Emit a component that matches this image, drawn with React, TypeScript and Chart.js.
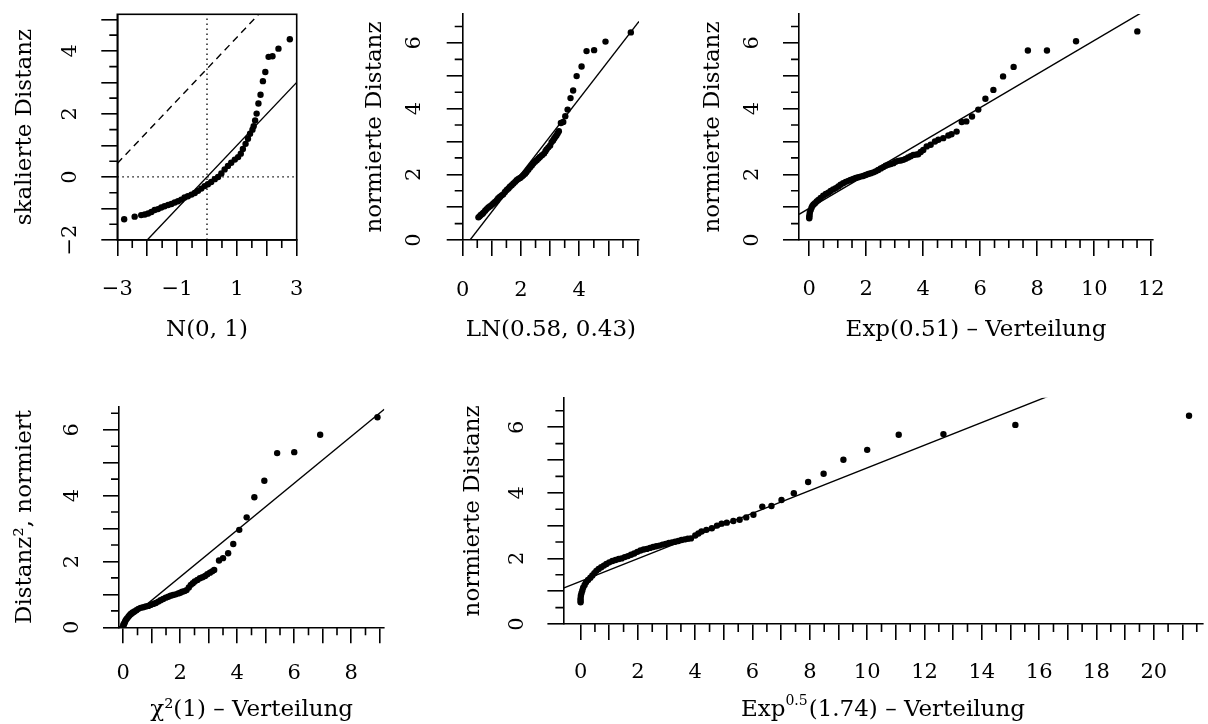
import React, { useEffect, useRef } from "react";
import { Chart, registerables } from "chart.js";

Chart.register(...registerables);

const SERIF = '"DejaVu Serif", "Liberation Serif", serif';
const PAGE_W = 1208;
const PAGE_H = 724;
const AXW = 1.6;
const LINEW = 1.4;
const MAJOR = 16;
const MINOR = 8;
const PR = 3.2;
const TICK_SIZE = 21;
const TITLE_SIZE = 23;

// ---------- Panel 1: N(0,1) ----------
const p1X = [-2.77, -2.42, -2.2, -2.08, -1.97, -1.86, -1.75, -1.64, -1.53, -1.42, -1.3, -1.19, -1.08, -0.97, -0.86, -0.75, -0.64, -0.52, -0.41, -0.3, -0.19, -0.08, 0.03, 0.14, 0.26, 0.37, 0.48, 0.59, 0.7, 0.81, 0.93, 1.04, 1.13, 1.2, 1.29, 1.37, 1.44, 1.52, 1.56, 1.61, 1.66, 1.72, 1.79, 1.87, 1.95, 2.06, 2.19, 2.39, 2.77];
const p1Y = [-1.34, -1.26, -1.21, -1.19, -1.16, -1.11, -1.05, -1.02, -0.97, -0.93, -0.89, -0.86, -0.81, -0.77, -0.72, -0.65, -0.61, -0.56, -0.51, -0.44, -0.37, -0.29, -0.23, -0.16, -0.07, 0.0, 0.11, 0.24, 0.35, 0.45, 0.55, 0.63, 0.74, 0.89, 1.05, 1.21, 1.37, 1.5, 1.61, 1.79, 2.01, 2.33, 2.61, 3.04, 3.33, 3.81, 3.83, 4.07, 4.37];
const p1Fit = { a: 0, b: 1 };
const p1Shift = { a: 3.43, b: 1 };
const p1RefX = 0;
const p1RefY = 0;
const p1XTicks = [-3, -2, -1, 0, 1, 2, 3];
const p1XMinor = [-2.5, -1.5, -0.5, 0.5, 1.5, 2.5];
const p1XLabels = [-3, -1, 1, 3];
const p1YTicks = [-2, -1, 0, 1, 2, 3, 4, 5];
const p1YMinor = [-1.5, -0.5, 0.5, 1.5, 2.5, 3.5, 4.5];
const p1YLabels = [-2, 0, 2, 4];

// ---------- Panel 2: LN(0.58, 0.43) ----------
const p2X = [0.54, 0.58, 0.62, 0.67, 0.71, 0.77, 0.82, 0.88, 0.94, 1.0, 1.05, 1.11, 1.17, 1.22, 1.28, 1.34, 1.39, 1.45, 1.51, 1.57, 1.62, 1.68, 1.74, 1.8, 1.85, 1.91, 1.97, 2.03, 2.08, 2.14, 2.19, 2.25, 2.31, 2.37, 2.42, 2.48, 2.54, 2.6, 2.65, 2.72, 2.79, 2.84, 2.88, 2.94, 3.0, 3.05, 3.1, 3.14, 3.18, 3.22, 3.26, 3.3, 3.37, 3.45, 3.52, 3.6, 3.7, 3.79, 3.91, 4.08, 4.25, 4.51, 4.9, 5.77];
const p2Y = [0.69, 0.72, 0.76, 0.79, 0.83, 0.89, 0.94, 0.99, 1.03, 1.07, 1.11, 1.16, 1.21, 1.27, 1.32, 1.36, 1.39, 1.46, 1.52, 1.57, 1.62, 1.67, 1.72, 1.77, 1.82, 1.86, 1.89, 1.93, 1.97, 2.02, 2.07, 2.14, 2.21, 2.27, 2.33, 2.38, 2.43, 2.48, 2.53, 2.58, 2.63, 2.7, 2.76, 2.82, 2.88, 2.98, 3.03, 3.09, 3.14, 3.19, 3.25, 3.31, 3.56, 3.59, 3.77, 3.97, 4.32, 4.55, 4.99, 5.28, 5.75, 5.78, 6.04, 6.32];
const p2Fit = { a: -0.287, b: 1.147 };
const p2XTicks = [0, 1, 2, 3, 4, 5, 6];
const p2XMinor = [0.5, 1.5, 2.5, 3.5, 4.5, 5.5];
const p2XLabels = [0, 2, 4];
const p2YTicks = [0, 1, 2, 3, 4, 5, 6];
const p2YMinor = [0.5, 1.5, 2.5, 3.5, 4.5, 5.5, 6.5];
const p2YLabels = [0, 2, 4, 6];

// ---------- Panel 3: Exp(0.51) ----------
const p3X = [0.0, 0.0, 0.01, 0.02, 0.05, 0.08, 0.11, 0.15, 0.2, 0.26, 0.32, 0.4, 0.49, 0.58, 0.67, 0.75, 0.84, 0.93, 1.02, 1.1, 1.19, 1.28, 1.37, 1.45, 1.54, 1.63, 1.72, 1.8, 1.89, 1.98, 2.07, 2.16, 2.25, 2.33, 2.42, 2.51, 2.6, 2.68, 2.77, 2.86, 2.95, 3.03, 3.12, 3.21, 3.3, 3.38, 3.47, 3.56, 3.65, 3.74, 3.82, 3.91, 4.0, 4.12, 4.26, 4.41, 4.53, 4.7, 4.88, 4.99, 5.17, 5.35, 5.51, 5.71, 5.93, 6.18, 6.46, 6.8, 7.17, 7.67, 8.34, 9.36, 11.51];
const p3Y = [0.66, 0.71, 0.76, 0.84, 0.91, 0.98, 1.04, 1.08, 1.12, 1.17, 1.22, 1.28, 1.35, 1.4, 1.44, 1.49, 1.54, 1.58, 1.63, 1.68, 1.73, 1.77, 1.8, 1.83, 1.86, 1.89, 1.91, 1.93, 1.95, 1.98, 2.01, 2.03, 2.06, 2.09, 2.13, 2.18, 2.22, 2.26, 2.29, 2.31, 2.34, 2.38, 2.41, 2.42, 2.44, 2.47, 2.51, 2.55, 2.59, 2.6, 2.61, 2.68, 2.74, 2.85, 2.9, 3.0, 3.05, 3.1, 3.18, 3.22, 3.3, 3.59, 3.61, 3.76, 3.97, 4.3, 4.57, 4.98, 5.27, 5.77, 5.77, 6.05, 6.35];
const p3Fit = { a: 0.964, b: 0.511 };
const p3XTicks = [0, 2, 4, 6, 8, 10, 12];
const p3XMinor = [0.5, 1, 1.5, 2.5, 3, 3.5, 4.5, 5, 5.5, 6.5, 7, 7.5, 8.5, 9, 9.5, 10.5, 11, 11.5];
const p3XLabels = [0, 2, 4, 6, 8, 10, 12];
const p3YTicks = [0, 1, 2, 3, 4, 5, 6];
const p3YMinor = [0.5, 1.5, 2.5, 3.5, 4.5, 5.5, 6.5];
const p3YLabels = [0, 2, 4, 6];

// ---------- Panel 4: chi^2(1) ----------
const p4X = [0.0, 0.01, 0.02, 0.04, 0.06, 0.09, 0.13, 0.18, 0.22, 0.27, 0.33, 0.39, 0.46, 0.53, 0.61, 0.7, 0.79, 0.88, 0.96, 1.05, 1.14, 1.23, 1.31, 1.4, 1.49, 1.58, 1.66, 1.75, 1.84, 1.93, 2.0, 2.07, 2.15, 2.22, 2.3, 2.37, 2.44, 2.51, 2.6, 2.69, 2.78, 2.87, 2.95, 3.04, 3.12, 3.19, 3.36, 3.5, 3.68, 3.86, 4.07, 4.33, 4.6, 4.95, 5.4, 6.0, 6.91, 8.92];
const p4Y = [0.05, 0.08, 0.1, 0.12, 0.17, 0.22, 0.27, 0.32, 0.37, 0.41, 0.45, 0.48, 0.52, 0.56, 0.59, 0.61, 0.63, 0.65, 0.68, 0.71, 0.74, 0.78, 0.82, 0.86, 0.9, 0.93, 0.96, 0.98, 1.0, 1.03, 1.05, 1.08, 1.1, 1.13, 1.21, 1.29, 1.34, 1.39, 1.44, 1.49, 1.52, 1.56, 1.61, 1.66, 1.7, 1.74, 2.03, 2.1, 2.25, 2.53, 2.96, 3.34, 3.95, 4.45, 5.29, 5.32, 5.85, 6.38];
const p4Fit = { a: 0.11, b: 0.711 };
const p4XTicks = [0, 1, 2, 3, 4, 5, 6, 7, 8, 9];
const p4XMinor = [0.5, 1.5, 2.5, 3.5, 4.5, 5.5, 6.5, 7.5, 8.5];
const p4XLabels = [0, 2, 4, 6, 8];
const p4YTicks = [0, 1, 2, 3, 4, 5, 6];
const p4YMinor = [0.5, 1.5, 2.5, 3.5, 4.5, 5.5, 6.5];
const p4YLabels = [0, 2, 4, 6];

// ---------- Panel 5: Exp^0.5(1.74) ----------
const p5X = [0.0, 0.0, 0.0, 0.01, 0.03, 0.06, 0.09, 0.14, 0.19, 0.26, 0.34, 0.41, 0.48, 0.55, 0.63, 0.72, 0.81, 0.9, 1.0, 1.11, 1.22, 1.33, 1.43, 1.54, 1.65, 1.76, 1.87, 1.98, 2.09, 2.2, 2.31, 2.42, 2.53, 2.64, 2.75, 2.86, 2.97, 3.08, 3.19, 3.3, 3.41, 3.52, 3.63, 3.74, 3.85, 4.0, 4.11, 4.22, 4.39, 4.58, 4.76, 4.92, 5.1, 5.33, 5.55, 5.78, 6.03, 6.34, 6.66, 7.01, 7.44, 7.94, 8.48, 9.17, 10.0, 11.1, 12.66, 15.17, 21.23];
const p5Y = [0.66, 0.72, 0.78, 0.86, 0.94, 1.02, 1.11, 1.19, 1.27, 1.34, 1.41, 1.48, 1.55, 1.62, 1.68, 1.73, 1.78, 1.83, 1.88, 1.92, 1.95, 1.98, 2.0, 2.04, 2.07, 2.11, 2.15, 2.2, 2.24, 2.27, 2.29, 2.32, 2.35, 2.37, 2.39, 2.42, 2.44, 2.47, 2.49, 2.51, 2.53, 2.56, 2.58, 2.6, 2.61, 2.7, 2.76, 2.82, 2.87, 2.92, 3.0, 3.06, 3.09, 3.14, 3.18, 3.25, 3.33, 3.58, 3.6, 3.78, 3.99, 4.33, 4.58, 5.01, 5.31, 5.77, 5.79, 6.07, 6.35];
const p5Fit = { a: 1.3, b: 0.346 };
const p5XTicks = [0, 1, 2, 3, 4, 5, 6, 7, 8, 9, 10, 11, 12, 13, 14, 15, 16, 17, 18, 19, 20, 21];
const p5XMinor = [0.5, 1.5, 2.5, 3.5, 4.5, 5.5, 6.5, 7.5, 8.5, 9.5, 10.5, 11.5, 12.5, 13.5, 14.5, 15.5, 16.5, 17.5, 18.5, 19.5, 20.5, 21.5];
const p5XLabels = [0, 2, 4, 6, 8, 10, 12, 14, 16, 18, 20];
const p5YTicks = [0, 1, 2, 3, 4, 5, 6];
const p5YMinor = [0.5, 1.5, 2.5, 3.5, 4.5, 5.5, 6.5];
const p5YLabels = [0, 2, 4, 6];

type Area = { l: number; t: number; r: number; b: number };
type FitLine = { a: number; b: number; dash?: number[] };
type Spec = {
  xs: number[];
  ys: number[];
  fits: FitLine[];
  refX?: number;
  refY?: number;
  area: Area;
  xMin: number;
  xMax: number;
  yMin: number;
  yMax: number;
  xTicks: number[];
  xMinor: number[];
  xLabels: number[];
  yTicks: number[];
  yMinor: number[];
  yLabels: number[];
  yTitle: string;
  xTitle: string;
  supTitle?: [string, string, string];
  yLabelX: number;
  yTitleX: number;
  xLabelY: number;
  xTitleY: number;
  box?: boolean;
};

const SPECS: Spec[] = [
  {
    xs: p1X, ys: p1Y,
    fits: [p1Fit, { ...p1Shift, dash: [7, 5] }],
    refX: p1RefX, refY: p1RefY,
    area: { l: 117.3, t: 14.3, r: 296.7, b: 240 },
    xMin: -3, xMax: 3, yMin: -2, yMax: 5.16,
    xTicks: p1XTicks, xMinor: p1XMinor, xLabels: p1XLabels,
    yTicks: p1YTicks, yMinor: p1YMinor, yLabels: p1YLabels,
    yTitle: "skalierte Distanz", xTitle: "N(0, 1)",
    yLabelX: 70.5, yTitleX: 25, xLabelY: 289, xTitleY: 330, box: true,
  },
  {
    xs: p2X, ys: p2Y, fits: [p2Fit],
    area: { l: 462.7, t: 14, r: 639, b: 240 },
    xMin: 0, xMax: 6.05, yMin: 0, yMax: 6.88,
    xTicks: p2XTicks, xMinor: p2XMinor, xLabels: p2XLabels,
    yTicks: p2YTicks, yMinor: p2YMinor, yLabels: p2YLabels,
    yTitle: "normierte Distanz", xTitle: "LN(0.58, 0.43)",
    yLabelX: 414.5, yTitleX: 375, xLabelY: 289.5, xTitleY: 330,
  },
  {
    xs: p3X, ys: p3Y, fits: [p3Fit],
    area: { l: 799, t: 14, r: 1153, b: 240 },
    xMin: -0.36, xMax: 12.06, yMin: 0, yMax: 6.88,
    xTicks: p3XTicks, xMinor: p3XMinor, xLabels: p3XLabels,
    yTicks: p3YTicks, yMinor: p3YMinor, yLabels: p3YLabels,
    yTitle: "normierte Distanz", xTitle: "Exp(0.51) \u2013 Verteilung",
    yLabelX: 752.5, yTitleX: 713, xLabelY: 289, xTitleY: 330,
  },
  {
    xs: p4X, ys: p4Y, fits: [p4Fit],
    area: { l: 119, t: 406.7, r: 384.3, b: 627.3 },
    xMin: -0.15, xMax: 9.16, yMin: 0, yMax: 6.7,
    xTicks: p4XTicks, xMinor: p4XMinor, xLabels: p4XLabels,
    yTicks: p4YTicks, yMinor: p4YMinor, yLabels: p4YLabels,
    yTitle: "Distanz\u00B2, normiert", xTitle: "\u03C7\u00B2(1) \u2013 Verteilung",
    yLabelX: 73, yTitleX: 25, xLabelY: 673, xTitleY: 710,
  },
  {
    xs: p5X, ys: p5Y, fits: [p5Fit],
    area: { l: 563.4, t: 397.7, r: 1202.5, b: 624 },
    xMin: -0.6, xMax: 21.7, yMin: 0, yMax: 6.9,
    xTicks: p5XTicks, xMinor: p5XMinor, xLabels: p5XLabels,
    yTicks: p5YTicks, yMinor: p5YMinor, yLabels: p5YLabels,
    yTitle: "normierte Distanz", xTitle: "",
    supTitle: ["Exp", "0.5", "(1.74) \u2013 Verteilung"],
    yLabelX: 518, yTitleX: 473, xLabelY: 672, xTitleY: 710,
  },
];

const fmt = (v: number) => (v < 0 ? "\u2212" + String(-v) : String(v));

function measure(text: string, size: number): number {
  const c = document.createElement("canvas");
  const ctx = c.getContext("2d")!;
  ctx.font = `${size}px ${SERIF}`;
  return ctx.measureText(text).width;
}

function makeChart(canvas: HTMLCanvasElement, s: Spec): Chart {
  const titleHalf = (TITLE_SIZE * 1.2) / 2;
  const padL = s.yTitleX - titleHalf;
  const yW = s.area.l - padL;
  let xH = s.xTitleY - s.area.b + titleHalf;
  const padB = Math.max(0, PAGE_H - s.area.b - xH);
  xH = PAGE_H - s.area.b - padB;
  const titleBottomPad = s.area.b + xH - titleHalf - s.xTitleY;
  const widest = Math.max(...s.yLabels.map((v) => measure(fmt(v), TICK_SIZE)));
  const yPad = s.area.l - MAJOR - s.yLabelX - widest / 2;
  const xPad = s.xLabelY - s.area.b - MAJOR - TICK_SIZE * 0.6 + 1;

  const datasets: any[] = [
    {
      data: s.xs.map((x, i) => ({ x, y: s.ys[i] })),
      pointRadius: PR,
      pointBackgroundColor: "#000",
      pointBorderWidth: 0,
      showLine: false,
      clip: 0,
    },
  ];
  for (const f of s.fits) {
    datasets.push({
      data: [
        { x: s.xMin, y: f.a + f.b * s.xMin },
        { x: s.xMax, y: f.a + f.b * s.xMax },
      ],
      showLine: true,
      borderColor: "#000",
      borderWidth: LINEW,
      borderDash: f.dash || [],
      pointRadius: 0,
      fill: false,
      clip: 0,
    });
  }
  if (s.refX !== undefined) {
    datasets.push({
      data: [
        { x: s.refX, y: s.yMin },
        { x: s.refX, y: s.yMax },
      ],
      showLine: true, borderColor: "#000", borderWidth: 1.3, borderDash: [1.5, 3.5],
      pointRadius: 0, fill: false, clip: 0,
    });
  }
  if (s.refY !== undefined) {
    datasets.push({
      data: [
        { x: s.xMin, y: s.refY },
        { x: s.xMax, y: s.refY },
      ],
      showLine: true, borderColor: "#000", borderWidth: 1.3, borderDash: [1.5, 3.5],
      pointRadius: 0, fill: false, clip: 0,
    });
  }

  const extra = {
    id: "rExtras",
    afterDraw(chart: any) {
      const ctx = chart.ctx as CanvasRenderingContext2D;
      const xs = chart.scales.x;
      const ys = chart.scales.y;
      const a = chart.chartArea;
      ctx.save();
      ctx.strokeStyle = "#000";
      ctx.lineWidth = AXW;
      ctx.beginPath();
      for (const v of s.xMinor) {
        const p = xs.getPixelForValue(v);
        ctx.moveTo(p, a.bottom);
        ctx.lineTo(p, a.bottom + MINOR);
      }
      for (const v of s.yMinor) {
        const p = ys.getPixelForValue(v);
        ctx.moveTo(a.left, p);
        ctx.lineTo(a.left - MINOR, p);
      }
      ctx.stroke();
      if (s.box) {
        ctx.strokeRect(a.left, a.top, a.right - a.left, a.bottom - a.top);
      }
      if (s.supTitle) {
        const [p1, p2, p3] = s.supTitle;
        const big = `${TITLE_SIZE}px ${SERIF}`;
        const small = `${Math.round(TITLE_SIZE * 0.6)}px ${SERIF}`;
        ctx.font = big;
        const w1 = ctx.measureText(p1).width;
        const w3 = ctx.measureText(p3).width;
        ctx.font = small;
        const w2 = ctx.measureText(p2).width;
        const total = w1 + w2 + w3 + 1;
        let x = (a.left + a.right) / 2 - total / 2;
        const y = s.xTitleY;
        ctx.fillStyle = "#000";
        ctx.textBaseline = "middle";
        ctx.textAlign = "left";
        ctx.font = big;
        ctx.fillText(p1, x, y);
        x += w1;
        ctx.font = small;
        ctx.fillText(p2, x, y - 9);
        x += w2 + 1;
        ctx.font = big;
        ctx.fillText(p3, x, y);
      }
      ctx.restore();
    },
  };

  return new Chart(canvas, {
    type: "scatter",
    data: { datasets },
    options: {
      responsive: false,
      animation: false,
      events: [],
      layout: {
        padding: { left: padL, top: s.area.t, right: PAGE_W - s.area.r, bottom: padB },
        autoPadding: false,
      } as any,
      plugins: { legend: { display: false }, tooltip: { enabled: false } },
      scales: {
        x: {
          type: "linear",
          position: "bottom",
          min: s.xMin,
          max: s.xMax,
          bounds: "data",
          afterBuildTicks: (sc: any) => {
            sc.ticks = s.xTicks.map((v) => ({ value: v }));
          },
          afterFit: (sc: any) => {
            sc.height = xH;
            sc.paddingLeft = 0;
            sc.paddingRight = 0;
            sc.paddingTop = 0;
            sc.paddingBottom = 0;
          },
          ticks: {
            autoSkip: false,
            minRotation: 0,
            maxRotation: 0,
            padding: xPad,
            color: "#000",
            font: { family: SERIF, size: TICK_SIZE },
            callback: (v: any) => (s.xLabels.includes(Number(v)) ? fmt(Number(v)) : ""),
          },
          grid: {
            display: true,
            drawOnChartArea: false,
            drawTicks: true,
            tickLength: MAJOR,
            color: "#000",
            lineWidth: AXW,
          },
          border: { display: true, color: "#000", width: AXW },
          title: {
            display: !!s.xTitle,
            text: s.xTitle,
            color: "#000",
            font: { family: SERIF, size: TITLE_SIZE },
            padding: { top: 0, bottom: titleBottomPad },
          },
        } as any,
        y: {
          type: "linear",
          position: "left",
          min: s.yMin,
          max: s.yMax,
          bounds: "data",
          afterBuildTicks: (sc: any) => {
            sc.ticks = s.yTicks.map((v) => ({ value: v }));
          },
          afterFit: (sc: any) => {
            sc.width = yW;
            sc.paddingLeft = 0;
            sc.paddingRight = 0;
            sc.paddingTop = 0;
            sc.paddingBottom = 0;
          },
          ticks: {
            autoSkip: false,
            minRotation: 90,
            maxRotation: 90,
            crossAlign: "center",
            padding: yPad,
            color: "#000",
            font: { family: SERIF, size: TICK_SIZE },
            callback: (v: any) => (s.yLabels.includes(Number(v)) ? fmt(Number(v)) : ""),
          },
          grid: {
            display: true,
            drawOnChartArea: false,
            drawTicks: true,
            tickLength: MAJOR,
            color: "#000",
            lineWidth: AXW,
          },
          border: { display: true, color: "#000", width: AXW },
          title: {
            display: true,
            text: s.yTitle,
            color: "#000",
            font: { family: SERIF, size: TITLE_SIZE },
            padding: 0,
          },
        } as any,
      },
    },
    plugins: [extra],
  });
}

export default function App() {
  const refs = useRef<(HTMLCanvasElement | null)[]>([]);

  useEffect(() => {
    const charts: Chart[] = [];
    SPECS.forEach((s, i) => {
      const c = refs.current[i];
      if (c) charts.push(makeChart(c, s));
    });
    return () => {
      charts.forEach((c) => c.destroy());
    };
  }, []);

  return (
    <div
      style={{
        position: "absolute",
        left: 0,
        top: 0,
        width: PAGE_W,
        height: PAGE_H,
        background: "#fff",
        overflow: "hidden",
      }}
    >
      {SPECS.map((_, i) => (
        <canvas
          key={i}
          ref={(el) => {
            refs.current[i] = el;
          }}
          width={PAGE_W}
          height={PAGE_H}
          style={{ position: "absolute", left: 0, top: 0, width: PAGE_W, height: PAGE_H }}
        />
      ))}
    </div>
  );
}
